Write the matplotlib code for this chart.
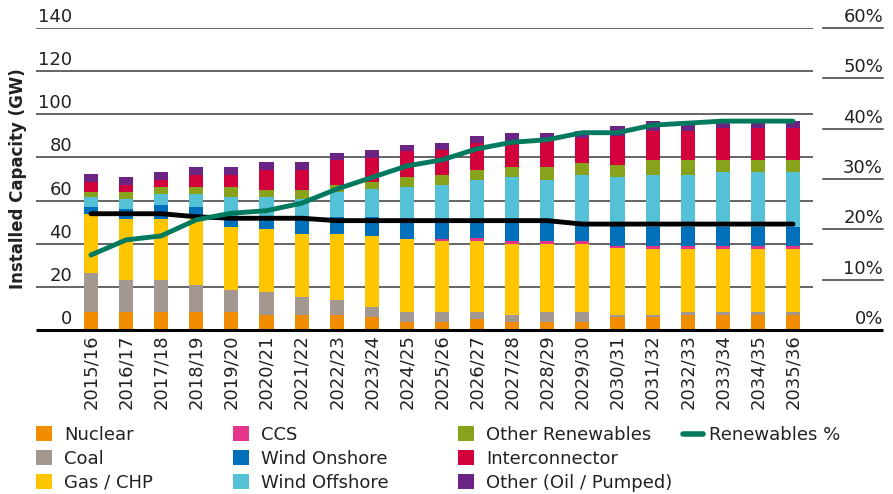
import numpy as np
import matplotlib
matplotlib.use('Agg')
import matplotlib.pyplot as plt
import matplotlib.transforms as mtransforms
from matplotlib.patches import Patch
from matplotlib.lines import Line2D

plt.rcParams['font.family'] = 'DejaVu Sans'

# ---- data (GW) ----
years = ['2015/16', '2016/17', '2017/18', '2018/19', '2019/20', '2020/21', '2021/22',
         '2022/23', '2023/24', '2024/25', '2025/26', '2026/27', '2027/28', '2028/29',
         '2029/30', '2030/31', '2031/32', '2032/33', '2033/34', '2034/35', '2035/36']

nuclear = [8.5, 8.5, 8.5, 8.5, 8.5, 7.0, 7.0, 7.0, 6.0, 3.8, 3.8, 5.0, 3.8, 3.8,
           3.8, 5.9, 5.9, 7.0, 7.0, 7.0, 7.0]
coal = [18.1, 14.7, 14.7, 12.4, 10.0, 10.5, 8.2, 7.0, 4.8, 4.5, 4.5, 3.3, 3.2, 4.5,
        4.5, 1.1, 1.1, 1.3, 1.3, 1.3, 1.3]
gas_chp = [27.3, 28.3, 28.3, 31.6, 29.4, 29.5, 29.4, 30.6, 32.8, 34.0, 33.0, 33.0, 33.0, 31.7,
           31.7, 30.9, 30.7, 29.4, 29.4, 29.4, 29.4]
ccs = [0, 0, 0, 0, 0, 0, 0, 0, 0, 0, 1.0, 1.4, 1.3, 1.3,
       1.3, 1.0, 1.2, 1.2, 1.2, 1.2, 1.2]
wind_onshore = [3.1, 4.6, 6.6, 4.5, 4.6, 5.5, 8.4, 7.8, 8.8, 8.7, 8.4, 8.0, 9.4, 9.4,
                8.9, 9.6, 9.0, 9.0, 9.0, 9.0, 9.0]
wind_offshore = [4.7, 4.5, 4.8, 5.9, 9.2, 9.2, 7.6, 11.6, 12.8, 15.3, 16.7, 19.0, 20.1, 19.0,
                 21.8, 22.3, 24.1, 24.1, 25.2, 25.2, 25.2]
other_renew = [2.3, 3.4, 3.4, 3.4, 4.6, 3.3, 4.4, 3.4, 3.4, 4.5, 4.6, 4.5, 4.6, 5.7,
               5.6, 5.7, 6.8, 6.8, 5.7, 5.7, 5.7]
interconnector = [4.5, 3.2, 3.4, 5.7, 5.7, 9.3, 9.3, 11.4, 11.3, 12.3, 11.3, 12.5, 12.4, 13.5,
                  11.4, 13.6, 13.6, 13.6, 14.7, 14.7, 14.7]
other_oil = [3.7, 3.7, 3.6, 3.6, 3.6, 3.4, 3.4, 3.4, 3.4, 2.5, 3.4, 3.4, 3.5, 2.4,
             3.4, 4.5, 4.5, 4.5, 4.5, 4.5, 3.4]

# black line (GW, left axis) and renewables share (%, right axis)
peak_demand = [53.9, 53.9, 53.9, 52.5, 51.8, 51.8, 51.8, 50.7, 50.7, 50.7, 50.7, 50.7, 50.7, 50.7,
               49.1, 49.1, 49.1, 49.1, 49.1, 49.1, 49.1]
renewables_pct = [14.9, 17.9, 18.7, 21.9, 23.2, 23.7, 25.2, 28.0, 30.3, 32.6, 33.8, 36.0, 37.3, 37.8,
                  39.2, 39.2, 40.7, 41.1, 41.5, 41.5, 41.5]

left_ticks = [0, 20, 40, 60, 80, 100, 120, 140]
right_ticks = [0, 10, 20, 30, 40, 50, 60]

series = [
    ('Nuclear', nuclear, '#F28C00'),
    ('Coal', coal, '#A39890'),
    ('Gas / CHP', gas_chp, '#FFC600'),
    ('CCS', ccs, '#E4358B'),
    ('Wind Onshore', wind_onshore, '#0070BA'),
    ('Wind Offshore', wind_offshore, '#55C1D6'),
    ('Other Renewables', other_renew, '#88A21B'),
    ('Interconnector', interconnector, '#D2013C'),
    ('Other (Oil / Pumped)', other_oil, '#6B2484'),
]
green = '#007A5E'
txt = '#222222'

# ---- figure ----
W, H = 893, 494
fig = plt.figure(figsize=(W / 100, H / 100), dpi=100)
ax = fig.add_axes([36 / W, (H - 330) / H, 777 / W, 302 / H])

x = np.arange(len(years))
bottom = np.zeros(len(years))
for name, vals, col in series:
    ax.bar(x, vals, width=0.4, bottom=bottom, color=col, zorder=2, linewidth=0)
    bottom += np.array(vals)

ax.plot(x, peak_demand, color='black', lw=3.5, zorder=4, solid_capstyle='round')

ax.set_xlim(-1.567, 20.57)
ax.set_ylim(0, 140)
for s in ax.spines.values():
    s.set_visible(False)

# gridlines + left labels (drawn above each line, inside the plot)
ylab_tr = mtransforms.offset_copy(ax.get_yaxis_transform(), fig=fig, y=6, units='dots')
for v in left_ticks[1:]:
    ax.axhline(v, color='#3a3a3a', lw=1.1, zorder=0)
for v in left_ticks:
    ax.text(0.0463, v, str(v), transform=ylab_tr, ha='right', va='baseline',
            fontsize=13, color=txt)
ax.set_yticks([])

# base line running under the right axis too
ax.plot([0, 1.0901], [0, 0], transform=ax.get_yaxis_transform(), color='black',
        lw=2.2, clip_on=False, zorder=6, solid_capstyle='butt')

ax.set_xticks(x)
ax.set_xticklabels(years, rotation=90, fontsize=13, color=txt)
ax.tick_params(axis='x', length=0, pad=3)

ax.text(-0.0228, 0.5, 'Installed Capacity (GW)', transform=ax.transAxes, rotation=90,
        ha='center', va='center', fontsize=12, fontweight='bold', color=txt)

# right axis (renewables %)
ax2 = ax.twinx()
ax2.set_ylim(0, 60)
ax2.set_yticks([])
for s in ax2.spines.values():
    s.set_visible(False)
rlab_tr = mtransforms.offset_copy(ax2.get_yaxis_transform(), fig=fig, y=6, units='dots')
for v in right_ticks:
    if v > 0:
        ax2.plot([1.0129, 1.0901], [v, v], transform=ax2.get_yaxis_transform(),
                 color='#3a3a3a', lw=1.1, clip_on=False)
    ax2.text(1.0901, v, f'{v}%', transform=rlab_tr, ha='right', va='baseline',
             fontsize=13, color=txt)
ax2.plot(x, renewables_pct, color=green, lw=3.5, zorder=5, solid_capstyle='round')

# ---- legend, four hand-placed columns ----
cols_x = [36, 233, 458]
leg_top = 1 - 426 / H
for c in range(3):
    handles = [Patch(facecolor=col, edgecolor='none') for _, _, col in series[c * 3:c * 3 + 3]]
    labels = [name for name, _, _ in series[c * 3:c * 3 + 3]]
    leg = fig.legend(handles, labels, loc='upper left',
                     bbox_to_anchor=(cols_x[c] / W, leg_top), frameon=False,
                     fontsize=13, handlelength=0.9, handleheight=0.9, handletextpad=0.65,
                     labelspacing=0.32, borderpad=0, borderaxespad=0)
    for t in leg.get_texts():
        t.set_color(txt)
leg = fig.legend([Line2D([0], [0], color=green, lw=4, solid_capstyle='round')], ['Renewables %'],
                 loc='upper left', bbox_to_anchor=(683 / W, leg_top), frameon=False,
                 fontsize=13, handlelength=1.1, handletextpad=0.35, borderpad=0, borderaxespad=0)
for t in leg.get_texts():
    t.set_color(txt)

fig.savefig('out.png', dpi=100)
